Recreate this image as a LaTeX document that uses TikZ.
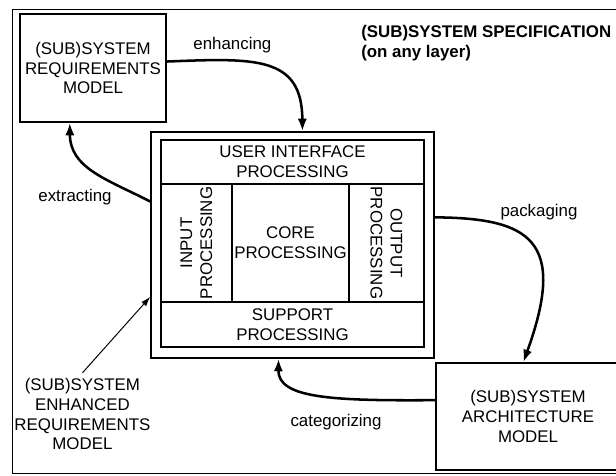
\documentclass[tikz,border=0pt]{standalone}
\usepackage{fontspec}
\setmainfont{Liberation Sans}
\usetikzlibrary{arrows.meta}

\begin{document}
\begin{tikzpicture}[
  >={Latex[length=9pt,width=6.5pt]},
  every node/.style={font=\fontsize{12}{14.2}\selectfont},
  model/.style={rectangle, draw, line width=0.9pt, align=center, inner sep=2pt},
  cell/.style={rectangle, draw, line width=0.9pt, align=center, inner sep=1pt},
  flow/.style={->, line width=1.8pt},
  tag/.style={inner sep=1pt}
]
  \useasboundingbox (0,0) rectangle (15.4,11.9);
  \draw[line width=0.7pt] (0.31,0.05) rectangle (15.7,11.65);

  \node[model, minimum width=3.65cm, minimum height=2.7cm] (req) at (2.325,10.2) {(SUB)SYSTEM\\REQUIREMENTS\\MODEL};
  \node[anchor=west, align=left, inner sep=0pt, font=\fontsize{12}{14.2}\selectfont\bfseries] (spec) at (9.025,10.83) {(SUB)SYSTEM SPECIFICATION\\(on any layer)};

  \node[model, minimum width=7.075cm, minimum height=5.65cm] (sys) at (7.3125,5.775) {};
  \node[cell, minimum width=6.575cm, minimum height=1.1cm] (ui) at (7.3125,7.85) {USER INTERFACE\\PROCESSING};
  \node[cell, rotate=90, minimum width=2.95cm, minimum height=1.775cm] (inp) at (4.9125,5.825) {INPUT\\PROCESSING};
  \node[cell, minimum width=2.925cm, minimum height=2.95cm] (core) at (7.2625,5.825) {CORE\\PROCESSING};
  \node[cell, rotate=-90, minimum width=2.95cm, minimum height=1.875cm] (outp) at (9.6625,5.825) {OUTPUT\\PROCESSING};
  \node[cell, minimum width=6.575cm, minimum height=1.125cm] (sup) at (7.3125,3.7875) {SUPPORT\\PROCESSING};

  \node[model, minimum width=4.6cm, minimum height=2.675cm] (arch) at (13.2,1.4875) {(SUB)SYSTEM\\ARCHITECTURE\\MODEL};
  \node[align=center] (enh) at (2.06,1.55) {(SUB)SYSTEM\\ENHANCED\\REQUIREMENTS\\MODEL};

  \node[tag] (lblenh) at (5.81,10.775) {enhancing};
  \node[tag] (lblext) at (1.875,6.975) {extracting};
  \node[tag] (lblpack) at (13.475,6.6) {packaging};
  \node[tag] (lblcat) at (8.4,1.35) {categorizing};

  \draw[flow] (req.5) .. controls (6.4,10.45) and (7.55,10.5) .. (sys.85);
  \draw[flow] (sys.163) .. controls (2.64,7.43) and (1.75,7.7) .. (req.247);
  \draw[flow] (sys.11) .. controls (13.25,6.45) and (14.19,5.9) .. (arch.95);
  \draw[flow] (arch.170) .. controls (8.25,1.875) and (6.95,1.95) .. (sys.263);
  \draw[-{Latex[length=7pt,width=4.5pt]}, line width=0.7pt] (enh.north) -- (sys.200);
\end{tikzpicture}
\end{document}
